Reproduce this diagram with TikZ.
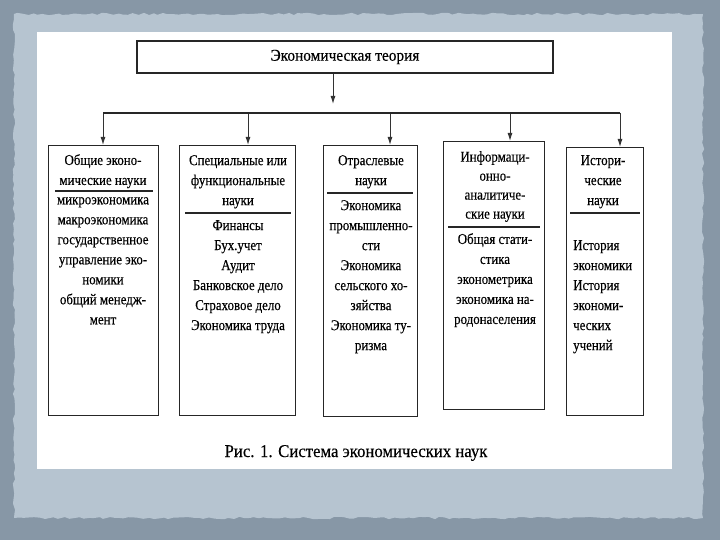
\documentclass[tikz,border=0pt]{standalone}
\usepackage{fontspec}
\setmainfont{Liberation Serif}
\newfontfamily\narrowserif[FakeStretch=0.86, FakeBold=0.3]{Liberation Serif}
\newfontfamily\captionserif[FakeStretch=0.93, FakeBold=0.3]{Liberation Serif}
\definecolor{slateframe}{HTML}{8797A6}
\definecolor{paleframe}{HTML}{B6C4D0}
\usetikzlibrary{arrows.meta, decorations.pathmorphing}
\tikzset{
	catbox/.style={draw=black!85, line width=1.4bp, anchor=north west, inner sep=0pt}
}
\tikzset{
	celltext/.style={font=\narrowserif\fontsize{15bp}{20bp}\selectfont, inner sep=0pt, anchor=north, align=center}
}
\tikzset{
	arr/.style={-{Latex[length=8bp,width=5bp]}, line width=1bp, draw=black!80}
}
\begin{document}
\begin{tikzpicture}[x=1bp, y=-1bp]
      \useasboundingbox (0,0) rectangle (720,540);
      % slide frame
      \fill[slateframe] (0,0) rectangle (720,540);
      \fill[paleframe, decorate, decoration={random steps, segment length=5bp, amplitude=1.2bp}] (14,14) rectangle (703,518);
      \fill[white] (37,32) rectangle (672,469);
      % root
      \node[catbox, anchor=center, minimum width=416bp, minimum height=32bp,
        font=\captionserif\fontsize{16.5bp}{18bp}\selectfont] (theory) at (345,57) {Экономическая теория};
      \coordinate (drop) at (333,104);
      \draw[arr] (theory.south -| drop) -- (drop);
      % five branches
      \foreach \n/\x/\y/\w/\h/\b in {
        gen/48/145/110/270/103, spec/179/145/116/270/248, ind/323/145/94/271/390,
        info/443/141/101/268/510, hist/566/147/77/268/620} {
        \node[catbox, minimum width=\w bp, minimum height=\h bp] (\n) at (\x,\y) {};
        \coordinate (b\n) at (\b,113);
        \draw[arr] (b\n) -- (b\n |- \n.north);
      }
      \draw[line width=1.4bp, black!85] (bgen) -- (bhist);
      % heading rules
      \foreach \a/\c/\y in {55/153/191, 185/291/213, 327/413/193, 448/540/227, 570/640/213}
        \draw[line width=1.4bp, black!85] (\a,\y) -- (\c,\y);
      \node[celltext] (genhead) at (103,154) {Общие эконо-\\мические науки};
      \node[celltext] (genlist) at (103,197) {микроэкономика\\макроэкономика\\государственное\\управление эко-\\номики\\общий менедж-\\мент};
      \node[celltext] (spechead) at (238,155) {Специальные или\\функциональные\\науки};
      \node[celltext] (speclist) at (238,220) {Финансы\\Бух.учет\\Аудит\\Банковское дело\\Страховое дело\\Экономика труда};
      \node[celltext] (indhead) at (371,155) {Отраслевые\\науки};
      \node[celltext] (indlist) at (371,200) {Экономика\\промышленно-\\сти\\Экономика\\сельского хо-\\зяйства\\Экономика ту-\\ризма};
      \node[celltext, font=\narrowserif\fontsize{15bp}{19bp}\selectfont] (infohead) at (495,151) {Информаци-\\онно-\\аналитиче-\\ские науки};
      \node[celltext] (infolist) at (495,233) {Общая стати-\\стика\\эконометрика\\экономика на-\\родонаселения};
      \node[celltext] (histhead) at (603,155) {Истори-\\ческие\\науки};
      \node[celltext, anchor=north west, align=left] (histlist) at (573,240) {История\\экономики\\История\\экономи-\\ческих\\учений};
      % caption
      \node[font=\captionserif\fontsize{18bp}{20bp}\selectfont] (caption) at (356,453) {Рис. 1. Система экономических наук};
\end{tikzpicture}
\end{document}
